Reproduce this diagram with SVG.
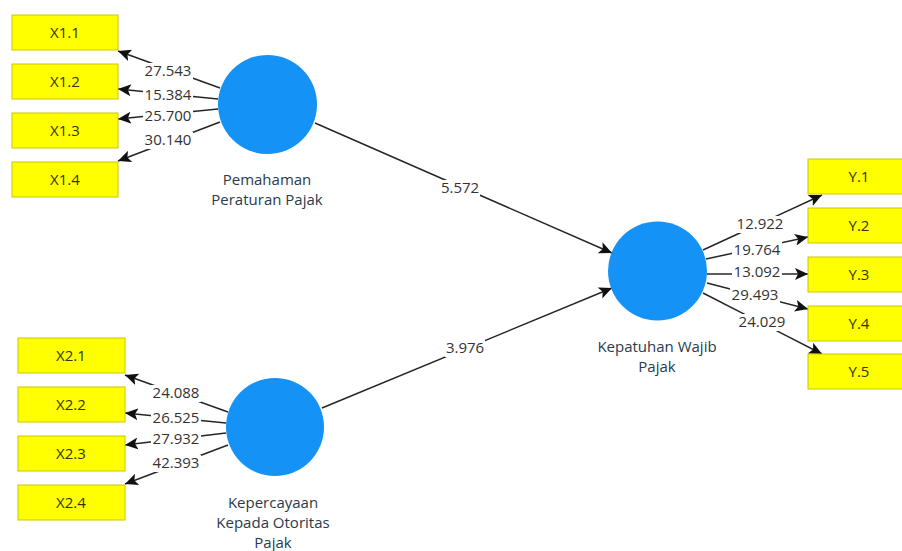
<svg xmlns="http://www.w3.org/2000/svg" width="902" height="551" viewBox="0 0 902 551">
<style>
.box{fill:#ffff00;stroke:#c8c800;stroke-width:1}
.bt{font-family:"Open Sans",sans-serif;font-size:15px;fill:#333300;text-anchor:middle}
.lv{fill:#1592f5}
.nt{font-family:"Open Sans",sans-serif;font-size:15px;fill:#2a3a4a;text-anchor:middle}
.ln{stroke:#262626;stroke-width:1.5;fill:none;marker-end:url(#ah)}
.bg{fill:#fff}
.lb{font-family:"Open Sans",sans-serif;font-size:15px;fill:#333;text-anchor:middle}
</style>
<defs>
<marker id="ah" markerWidth="14" markerHeight="12" refX="13" refY="6" orient="auto" markerUnits="userSpaceOnUse">
<path d="M0,0 L13,6 L0,12 L3,6 z" fill="#111"/>
</marker>
</defs>
<rect width="902" height="551" fill="#fff"/>
<g id="connectors">
<line class="ln" x1="220" y1="88" x2="118" y2="51"/>
<line class="ln" x1="218" y1="99" x2="118" y2="89"/>
<line class="ln" x1="218" y1="109" x2="118" y2="119"/>
<line class="ln" x1="220" y1="122" x2="118" y2="161"/>
<line class="ln" x1="228" y1="412" x2="125" y2="375"/>
<line class="ln" x1="226" y1="423" x2="125" y2="413"/>
<line class="ln" x1="226" y1="433" x2="125" y2="445"/>
<line class="ln" x1="228" y1="445" x2="125" y2="484"/>
<line class="ln" x1="703" y1="250" x2="822" y2="195"/>
<line class="ln" x1="706" y1="259" x2="808" y2="237"/>
<line class="ln" x1="707" y1="274" x2="808" y2="274"/>
<line class="ln" x1="707" y1="283" x2="808" y2="309"/>
<line class="ln" x1="703" y1="293" x2="822" y2="354"/>
<line class="ln" x1="315" y1="123" x2="612" y2="253"/>
<line class="ln" x1="322" y1="408" x2="612" y2="288"/>
<rect class="bg" x="143" y="63" width="50" height="17"/><text class="lb" x="168" y="76">27.543</text>
<rect class="bg" x="143" y="87" width="50" height="17"/><text class="lb" x="168" y="100">15.384</text>
<rect class="bg" x="143" y="108" width="50" height="17"/><text class="lb" x="168" y="121">25.700</text>
<rect class="bg" x="143" y="132" width="50" height="17"/><text class="lb" x="168" y="145">30.140</text>
<rect class="bg" x="151" y="385" width="50" height="17"/><text class="lb" x="176" y="398">24.088</text>
<rect class="bg" x="151" y="410" width="50" height="17"/><text class="lb" x="176" y="423">26.525</text>
<rect class="bg" x="151" y="431" width="50" height="17"/><text class="lb" x="176" y="444">27.932</text>
<rect class="bg" x="151" y="455" width="50" height="17"/><text class="lb" x="176" y="468">42.393</text>
<rect class="bg" x="735" y="216" width="50" height="17"/><text class="lb" x="760" y="229">12.922</text>
<rect class="bg" x="732" y="242" width="50" height="17"/><text class="lb" x="757" y="255">19.764</text>
<rect class="bg" x="732" y="264" width="50" height="17"/><text class="lb" x="757" y="277">13.092</text>
<rect class="bg" x="730" y="287" width="50" height="17"/><text class="lb" x="755" y="300">29.493</text>
<rect class="bg" x="737" y="314" width="50" height="17"/><text class="lb" x="762" y="327">24.029</text>
<rect class="bg" x="440" y="180" width="40" height="17"/><text class="lb" x="460" y="193">5.572</text>
<rect class="bg" x="445" y="340" width="40" height="17"/><text class="lb" x="465" y="353">3.976</text>
</g>
<g id="X1.1"><rect class="box" x="12" y="15" width="106" height="35"/><text class="bt" x="65" y="38">X1.1</text></g>
<g id="X1.2"><rect class="box" x="12" y="64" width="106" height="35"/><text class="bt" x="65" y="87">X1.2</text></g>
<g id="X1.3"><rect class="box" x="12" y="113" width="106" height="35"/><text class="bt" x="65" y="136">X1.3</text></g>
<g id="X1.4"><rect class="box" x="12" y="162" width="106" height="35"/><text class="bt" x="65" y="185">X1.4</text></g>
<g id="X2.1"><rect class="box" x="18" y="338" width="107" height="35"/><text class="bt" x="71" y="361">X2.1</text></g>
<g id="X2.2"><rect class="box" x="18" y="387" width="107" height="35"/><text class="bt" x="71" y="410">X2.2</text></g>
<g id="X2.3"><rect class="box" x="18" y="436" width="107" height="35"/><text class="bt" x="71" y="459">X2.3</text></g>
<g id="X2.4"><rect class="box" x="18" y="485" width="107" height="35"/><text class="bt" x="71" y="508">X2.4</text></g>
<g id="Y.1"><rect class="box" x="808" y="159" width="106" height="35"/><text class="bt" x="859" y="182">Y.1</text></g>
<g id="Y.2"><rect class="box" x="808" y="208" width="106" height="35"/><text class="bt" x="859" y="231">Y.2</text></g>
<g id="Y.3"><rect class="box" x="808" y="257" width="106" height="35"/><text class="bt" x="859" y="280">Y.3</text></g>
<g id="Y.4"><rect class="box" x="808" y="306" width="106" height="35"/><text class="bt" x="859" y="329">Y.4</text></g>
<g id="Y.5"><rect class="box" x="808" y="354" width="106" height="35"/><text class="bt" x="859" y="377">Y.5</text></g>
<g id="pemahaman"><circle class="lv" cx="267.5" cy="104.5" r="49.5"/><text class="nt" x="267" y="185">Pemahaman</text><text class="nt" x="267" y="205">Peraturan Pajak</text></g>
<g id="kepercayaan"><circle class="lv" cx="275" cy="427" r="49"/><text class="nt" x="273" y="508">Kepercayaan</text><text class="nt" x="273" y="528">Kepada Otoritas</text><text class="nt" x="273" y="548">Pajak</text></g>
<g id="kepatuhan"><circle class="lv" cx="657.5" cy="271" r="49.5"/><text class="nt" x="657" y="352">Kepatuhan Wajib</text><text class="nt" x="657" y="372">Pajak</text></g>
</svg>
